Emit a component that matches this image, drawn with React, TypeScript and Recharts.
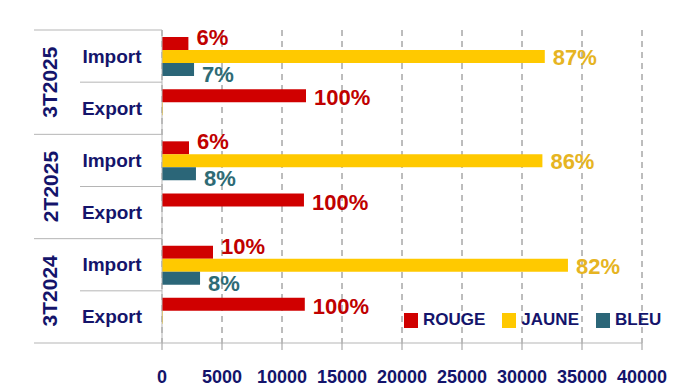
import React from "react";
import { BarChart, Bar, XAxis, YAxis, CartesianGrid, LabelList, Legend } from "recharts";

const PERIODS = ["3T2025", "3T2025", "2T2025", "2T2025", "3T2024", "3T2024"];
const FLOWS = ["Import", "Export", "Import", "Export", "Import", "Export"];
const ROUGE = [2200, 12000, 2250, 11830, 4250, 11900];
const JAUNE = [31900, 60, 31700, 0, 33830, 60];
const BLEU = [2670, 0, 2830, 0, 3170, 0];
const ROUGE_PCT = ["6%", "100%", "6%", "100%", "10%", "100%"];
const JAUNE_PCT = ["87%", "", "86%", "", "82%", ""];
const BLEU_PCT = ["7%", "", "8%", "", "8%", ""];
const X_TICKS = [0, 5000, 10000, 15000, 20000, 25000, 30000, 35000, 40000];
const SERIES = [
  { key: "rouge", name: "ROUGE", color: "#D00000", labelColor: "#C00000" },
  { key: "jaune", name: "JAUNE", color: "#FFC900", labelColor: "#E6B422" },
  { key: "bleu", name: "BLEU", color: "#2B6678", labelColor: "#2E6B75" },
];

const data = PERIODS.map((p, i) => ({
  id: p + "|" + FLOWS[i],
  period: p,
  flow: FLOWS[i],
  rouge: ROUGE[i],
  jaune: JAUNE[i],
  bleu: BLEU[i],
  rougePct: ROUGE_PCT[i],
  jaunePct: JAUNE_PCT[i],
  bleuPct: BLEU_PCT[i],
}));

const W = 678;
const H = 387;
const MARGIN = { top: 30, right: 36, bottom: 0, left: 0 };
const X_AXIS_H = 44;
const Y_AXIS_W = 162;
const BAND = (H - MARGIN.top - MARGIN.bottom - X_AXIS_H) / data.length;
const FONT = "'Liberation Sans', Arial, sans-serif";
const NAVY = "#14146B";
const LINE = "#B5B5B5";

const YTick = (props: any) => {
  const { x, y, index } = props;
  const row = data[index];
  if (!row) return null;
  const half = BAND / 2;
  const els: any[] = [];
  els.push(
    <text key="t" x={x - 50} y={y} textAnchor="middle" dominantBaseline="central"
      fontFamily={FONT} fontWeight={700} fontSize={19} fill={NAVY}>{row.flow}</text>
  );
  if (row.flow === "Import") {
    els.push(<line key="g" x1={x - 128} x2={x} y1={y - half} y2={y - half} stroke={LINE} strokeWidth={1} />);
    const cy = y + half;
    els.push(
      <text key="p" x={x - 112} y={cy} textAnchor="middle" dominantBaseline="central"
        transform={`rotate(-90 ${x - 112} ${cy})`}
        fontFamily={FONT} fontWeight={700} fontSize={21} fill={NAVY}>{row.period}</text>
    );
  } else {
    els.push(<line key="s" x1={x - 82} x2={x} y1={y - half} y2={y - half} stroke={LINE} strokeWidth={1} />);
    if (index === data.length - 1) {
      els.push(<line key="b" x1={x - 128} x2={x} y1={y + half} y2={y + half} stroke={LINE} strokeWidth={1} />);
    }
  }
  return <g>{els}</g>;
};

const XTick = (props: any) => {
  const { x, y, payload } = props;
  return (
    <text x={x} y={y} dy="0.71em" textAnchor="middle" fontFamily={FONT} fontWeight={700}
      fontSize={18} fill={NAVY}>{payload.value}</text>
  );
};

const makeLabel = (s: any) => (props: any) => {
  const { x, y, width, height, value } = props;
  const row = value || {};
  const text = row[s.key + "Pct"];
  if (!text) return null;
  let dy = 1;
  if (s.key === "rouge") dy = row.flow === "Import" ? -6 : 2;
  if (s.key === "bleu") dy = 5;
  return (
    <text x={x + width + 8} y={y + height / 2 + dy} dominantBaseline="central"
      fontFamily={FONT} fontWeight={700} fontSize={22} fill={s.labelColor}>{text}</text>
  );
};

const LegendBox = () => (
  <div style={{ display: "flex", alignItems: "center", fontFamily: FONT, fontWeight: 700, fontSize: 17, color: NAVY, whiteSpace: "nowrap" }}>
    {SERIES.map((s, i) => (
      <div key={s.key} style={{ display: "flex", alignItems: "center", marginRight: i < SERIES.length - 1 ? 17 : 0 }}>
        <span style={{ display: "inline-block", width: 14, height: 15, background: s.color, marginRight: 5 }} />
        <span>{s.name}</span>
      </div>
    ))}
  </div>
);

export default function App() {
  return (
    <div style={{ position: "absolute", left: 0, top: 0, width: W, height: H, background: "#fff" }}>
      <BarChart width={W} height={H} data={data} layout="vertical" margin={MARGIN}
        barSize={13} barGap={0}>
        <CartesianGrid horizontal={false} vertical={true} stroke="#7A7A7A" strokeDasharray="6 5" />
        <XAxis type="number" domain={[0, 40000]} ticks={X_TICKS} interval={0} height={X_AXIS_H}
          axisLine={{ stroke: LINE }} tickLine={{ stroke: "#999" }} tickSize={7} tickMargin={20}
          tick={<XTick />} />
        <YAxis type="category" dataKey="id" width={Y_AXIS_W} interval={0}
          axisLine={{ stroke: LINE }} tickLine={false} tickSize={0} tickMargin={0}
          tick={<YTick />} />
        <Legend layout="horizontal" verticalAlign="middle" align="center"
          wrapperStyle={{ position: "absolute", left: 404, top: 310, width: "auto" }}
          content={<LegendBox />} />
        {SERIES.map((s) => (
          <Bar key={s.key} dataKey={s.key} name={s.name} fill={s.color} isAnimationActive={false}>
            <LabelList dataKey={(d: any) => d} content={makeLabel(s)} />
          </Bar>
        ))}
      </BarChart>
    </div>
  );
}
